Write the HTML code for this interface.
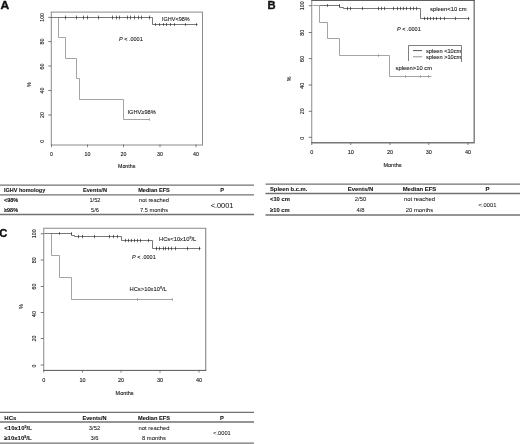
<!DOCTYPE html>
<html><head><meta charset="utf-8"><title>Figure</title>
<style>
html,body{margin:0;padding:0;background:#fff;}
svg{display:block;font-family:"Liberation Sans",sans-serif;}
</style></head><body>
<svg width="520" height="444" viewBox="0 0 520 444">
<rect width="520" height="444" fill="#fff"/>
<text transform="translate(0.6,8.6) scale(1.18,1)" font-size="10.2" font-weight="bold" fill="#111" stroke="#111" stroke-width="0.35">A</text>
<line x1="51.3" y1="12.1" x2="51.3" y2="145.0" stroke="#8a8a8a" stroke-width="1"/><line x1="202.5" y1="12.1" x2="202.5" y2="145.0" stroke="#8a8a8a" stroke-width="1.0"/><line x1="50.8" y1="12.1" x2="203.0" y2="12.1" stroke="#8a8a8a" stroke-width="1.0"/><line x1="50.8" y1="145.0" x2="203.0" y2="145.0" stroke="#8a8a8a" stroke-width="1.0"/><g font-size="5.3" fill="#1a1a1a" stroke="#1a1a1a" stroke-width="0.12" text-anchor="middle"><line x1="51.5" y1="144.5" x2="51.5" y2="147.2" stroke="#666" stroke-width="0.8"/><text x="51.5" y="155.8">0</text><line x1="87.5" y1="144.5" x2="87.5" y2="147.2" stroke="#666" stroke-width="0.8"/><text x="87.5" y="155.8">10</text><line x1="123.5" y1="144.5" x2="123.5" y2="147.2" stroke="#666" stroke-width="0.8"/><text x="123.5" y="155.8">20</text><line x1="160" y1="144.5" x2="160" y2="147.2" stroke="#666" stroke-width="0.8"/><text x="160" y="155.8">30</text><line x1="196" y1="144.5" x2="196" y2="147.2" stroke="#666" stroke-width="0.8"/><text x="196" y="155.8">40</text><line x1="48.3" y1="17.4" x2="51.3" y2="17.4" stroke="#555" stroke-width="0.8"/><text transform="translate(43.5,17.4) rotate(-90)" font-size="5.2">100</text><line x1="48.3" y1="41.6" x2="51.3" y2="41.6" stroke="#555" stroke-width="0.8"/><text transform="translate(43.5,41.6) rotate(-90)" font-size="5.2">80</text><line x1="48.3" y1="66" x2="51.3" y2="66" stroke="#555" stroke-width="0.8"/><text transform="translate(43.5,66.5) rotate(-90)" font-size="5.2">60</text><line x1="48.3" y1="90.5" x2="51.3" y2="90.5" stroke="#555" stroke-width="0.8"/><text transform="translate(43.5,90.5) rotate(-90)" font-size="5.2">40</text><line x1="48.3" y1="115" x2="51.3" y2="115" stroke="#555" stroke-width="0.8"/><text transform="translate(43.5,115) rotate(-90)" font-size="5.2">20</text><text transform="translate(43.5,141.3) rotate(-90)" font-size="5.2">0</text><text x="126.7" y="168.2">Months</text><text transform="translate(31,84.5) rotate(-90)" font-size="5.0">%</text></g>
<path d="M51.5,17.5 L152.5,17.5 L152.5,24.5 L197.5,24.5" fill="none" stroke="#424242" stroke-width="0.72"/>
<line x1="65.5" y1="15.6" x2="65.5" y2="19.4" stroke="#222" stroke-width="0.65"/><line x1="76.5" y1="15.6" x2="76.5" y2="19.4" stroke="#222" stroke-width="0.65"/><line x1="83.5" y1="15.6" x2="83.5" y2="19.4" stroke="#222" stroke-width="0.65"/><line x1="87.5" y1="15.6" x2="87.5" y2="19.4" stroke="#222" stroke-width="0.65"/><line x1="98.5" y1="15.6" x2="98.5" y2="19.4" stroke="#222" stroke-width="0.65"/><line x1="112.5" y1="15.6" x2="112.5" y2="19.4" stroke="#222" stroke-width="0.65"/><line x1="116.5" y1="15.6" x2="116.5" y2="19.4" stroke="#222" stroke-width="0.65"/><line x1="119.5" y1="15.6" x2="119.5" y2="19.4" stroke="#222" stroke-width="0.65"/><line x1="127.5" y1="15.6" x2="127.5" y2="19.4" stroke="#222" stroke-width="0.65"/><line x1="130.5" y1="15.6" x2="130.5" y2="19.4" stroke="#222" stroke-width="0.65"/><line x1="134.5" y1="15.6" x2="134.5" y2="19.4" stroke="#222" stroke-width="0.65"/><line x1="138.5" y1="15.6" x2="138.5" y2="19.4" stroke="#222" stroke-width="0.65"/><line x1="141.5" y1="15.6" x2="141.5" y2="19.4" stroke="#222" stroke-width="0.65"/><line x1="149.5" y1="15.6" x2="149.5" y2="19.4" stroke="#222" stroke-width="0.65"/>
<line x1="155.5" y1="23.1" x2="155.5" y2="25.9" stroke="#222" stroke-width="0.65"/><line x1="159.5" y1="23.1" x2="159.5" y2="25.9" stroke="#222" stroke-width="0.65"/><line x1="163.5" y1="23.1" x2="163.5" y2="25.9" stroke="#222" stroke-width="0.65"/><line x1="166.5" y1="23.1" x2="166.5" y2="25.9" stroke="#222" stroke-width="0.65"/><line x1="170.5" y1="23.1" x2="170.5" y2="25.9" stroke="#222" stroke-width="0.65"/><line x1="174.5" y1="23.1" x2="174.5" y2="25.9" stroke="#222" stroke-width="0.65"/><line x1="185.5" y1="23.1" x2="185.5" y2="25.9" stroke="#222" stroke-width="0.65"/><line x1="196.5" y1="23.1" x2="196.5" y2="25.9" stroke="#222" stroke-width="0.65"/>
<path d="M51.5,17.5 L58.5,17.5 L58.5,37.5 L65.5,37.5 L65.5,58.5 L76.5,58.5 L76.5,78.5 L79.5,78.5 L79.5,99.5 L123.5,99.5 L123.5,119.5 L149.5,119.5" fill="none" stroke="#808080" stroke-width="0.72"/>
<line x1="149.5" y1="118.2" x2="149.5" y2="120.8" stroke="#888" stroke-width="0.65"/>
<text x="119" y="41.1" font-size="5.5" fill="#1a1a1a" stroke="#1a1a1a" stroke-width="0.1"><tspan font-style="italic">P</tspan> &lt; .0001</text>
<text x="162" y="20.6" font-size="5.5" fill="#1a1a1a" stroke="#1a1a1a" stroke-width="0.1">IGHV&lt;98%</text>
<text x="127.5" y="113.7" font-size="5.65" fill="#1a1a1a" stroke="#1a1a1a" stroke-width="0.1">IGHV≥98%</text>
<line x1="0" y1="185.2" x2="254" y2="185.2" stroke="#727272" stroke-width="1.3"/><line x1="0" y1="194.8" x2="254" y2="194.8" stroke="#727272" stroke-width="1.3"/><line x1="0" y1="214.5" x2="254" y2="214.5" stroke="#727272" stroke-width="1.3"/><g font-size="5.6" fill="#161616" stroke="#161616" stroke-width="0.1"><g font-weight="bold"><text x="4" y="192.4" font-size="5.5">IGHV homology</text><text x="95" y="192.4" text-anchor="middle">Events/N</text><text x="154" y="192.4" text-anchor="middle">Median EFS</text><text x="222" y="192.4" text-anchor="middle">P</text><text x="4" y="202" font-size="5.5">&lt;98%</text><text x="4" y="212" font-size="5.5">≥98%</text></g><g text-anchor="middle" font-size="5.7" stroke-width="0.05"><text x="95" y="202">1/52</text><text x="154" y="202">not reached</text><text x="95" y="212">5/6</text><text x="154" y="212">7.5 months</text><text x="222" y="207.5" font-size="7.35">&lt;.0001</text></g></g>
<text transform="translate(267.6,9) scale(1.1,1)" font-size="10.2" font-weight="bold" fill="#111" stroke="#111" stroke-width="0.35">B</text>
<line x1="311.75" y1="0.35" x2="311.75" y2="142.8" stroke="#8a8a8a" stroke-width="1"/><line x1="474.2" y1="0.35" x2="474.2" y2="142.8" stroke="#7a7a7a" stroke-width="1.4"/><line x1="311.25" y1="0.35" x2="474.7" y2="0.35" stroke="#444" stroke-width="1.0"/><line x1="311.25" y1="142.8" x2="474.7" y2="142.8" stroke="#777" stroke-width="1.4"/><g font-size="5.5" fill="#1a1a1a" stroke="#1a1a1a" stroke-width="0.12" text-anchor="middle"><line x1="311.75" y1="142.3" x2="311.75" y2="145.0" stroke="#666" stroke-width="0.8"/><text x="311.75" y="153.8">0</text><line x1="350.75" y1="142.3" x2="350.75" y2="145.0" stroke="#666" stroke-width="0.8"/><text x="350.75" y="153.8">10</text><line x1="390" y1="142.3" x2="390" y2="145.0" stroke="#666" stroke-width="0.8"/><text x="390" y="153.8">20</text><line x1="428.75" y1="142.3" x2="428.75" y2="145.0" stroke="#666" stroke-width="0.8"/><text x="428.75" y="153.8">30</text><line x1="468" y1="142.3" x2="468" y2="145.0" stroke="#666" stroke-width="0.8"/><text x="468" y="153.8">40</text><line x1="308.75" y1="5.7" x2="311.75" y2="5.7" stroke="#555" stroke-width="0.8"/><text transform="translate(303.5,5.7) rotate(-90)" font-size="5.4">100</text><line x1="308.75" y1="32.5" x2="311.75" y2="32.5" stroke="#555" stroke-width="0.8"/><text transform="translate(303.5,32.8) rotate(-90)" font-size="5.4">80</text><line x1="308.75" y1="58.6" x2="311.75" y2="58.6" stroke="#555" stroke-width="0.8"/><text transform="translate(303.5,58.9) rotate(-90)" font-size="5.4">60</text><line x1="308.75" y1="85.0" x2="311.75" y2="85.0" stroke="#555" stroke-width="0.8"/><text transform="translate(303.5,85.8) rotate(-90)" font-size="5.4">40</text><line x1="308.75" y1="111.3" x2="311.75" y2="111.3" stroke="#555" stroke-width="0.8"/><text transform="translate(303.5,111.3) rotate(-90)" font-size="5.4">20</text><line x1="308.75" y1="137.3" x2="311.75" y2="137.3" stroke="#555" stroke-width="0.8"/><text transform="translate(303.5,138.20000000000002) rotate(-90)" font-size="5.4">0</text><text x="392.5" y="166.8">Months</text><text transform="translate(291,79) rotate(-90)" font-size="5.2">%</text></g>
<path d="M319.5,5.5 L339.5,5.5 L339.5,7.5 L343.5,7.5 L343.5,8.5 L420.5,8.5 L420.5,18.5 L469.5,18.5" fill="none" stroke="#424242" stroke-width="0.72"/>
<line x1="327.5" y1="4.1" x2="327.5" y2="6.9" stroke="#222" stroke-width="0.65"/><line x1="339.5" y1="4.1" x2="339.5" y2="6.9" stroke="#222" stroke-width="0.65"/>
<line x1="347.5" y1="6.8" x2="347.5" y2="10.2" stroke="#222" stroke-width="0.65"/><line x1="350.5" y1="6.8" x2="350.5" y2="10.2" stroke="#222" stroke-width="0.65"/><line x1="362.5" y1="6.8" x2="362.5" y2="10.2" stroke="#222" stroke-width="0.65"/><line x1="378.5" y1="6.8" x2="378.5" y2="10.2" stroke="#222" stroke-width="0.65"/><line x1="381.5" y1="6.8" x2="381.5" y2="10.2" stroke="#222" stroke-width="0.65"/><line x1="384.5" y1="6.8" x2="384.5" y2="10.2" stroke="#222" stroke-width="0.65"/><line x1="393.5" y1="6.8" x2="393.5" y2="10.2" stroke="#222" stroke-width="0.65"/><line x1="397.5" y1="6.8" x2="397.5" y2="10.2" stroke="#222" stroke-width="0.65"/><line x1="400.5" y1="6.8" x2="400.5" y2="10.2" stroke="#222" stroke-width="0.65"/><line x1="403.5" y1="6.8" x2="403.5" y2="10.2" stroke="#222" stroke-width="0.65"/><line x1="406.5" y1="6.8" x2="406.5" y2="10.2" stroke="#222" stroke-width="0.65"/><line x1="410.5" y1="6.8" x2="410.5" y2="10.2" stroke="#222" stroke-width="0.65"/><line x1="413.5" y1="6.8" x2="413.5" y2="10.2" stroke="#222" stroke-width="0.65"/><line x1="416.5" y1="6.8" x2="416.5" y2="10.2" stroke="#222" stroke-width="0.65"/>
<line x1="424.5" y1="16.9" x2="424.5" y2="20.1" stroke="#222" stroke-width="0.65"/><line x1="427.5" y1="16.9" x2="427.5" y2="20.1" stroke="#222" stroke-width="0.65"/><line x1="430.5" y1="16.9" x2="430.5" y2="20.1" stroke="#222" stroke-width="0.65"/><line x1="433.5" y1="16.9" x2="433.5" y2="20.1" stroke="#222" stroke-width="0.65"/><line x1="436.5" y1="16.9" x2="436.5" y2="20.1" stroke="#222" stroke-width="0.65"/><line x1="440.5" y1="16.9" x2="440.5" y2="20.1" stroke="#222" stroke-width="0.65"/><line x1="444.5" y1="16.9" x2="444.5" y2="20.1" stroke="#222" stroke-width="0.65"/><line x1="455.5" y1="16.9" x2="455.5" y2="20.1" stroke="#222" stroke-width="0.65"/><line x1="468.5" y1="16.9" x2="468.5" y2="20.1" stroke="#222" stroke-width="0.65"/>
<path d="M312.5,5.5 L319.5,5.5 L319.5,22.5 L327.5,22.5 L327.5,38.5 L339.5,38.5 L339.5,55.5 L389.5,55.5 L389.5,76.5 L431.5,76.5" fill="none" stroke="#808080" stroke-width="0.72"/>
<line x1="378.5" y1="54.1" x2="378.5" y2="56.9" stroke="#888" stroke-width="0.65"/>
<line x1="405.5" y1="75.1" x2="405.5" y2="77.9" stroke="#888" stroke-width="0.65"/><line x1="420.5" y1="75.1" x2="420.5" y2="77.9" stroke="#888" stroke-width="0.65"/><line x1="428.5" y1="75.1" x2="428.5" y2="77.9" stroke="#888" stroke-width="0.65"/>
<text x="430" y="11.2" font-size="5.85" fill="#1a1a1a" stroke="#1a1a1a" stroke-width="0.1">spleen&lt;10 cm</text>
<text x="397" y="31" font-size="5.5" fill="#1a1a1a" stroke="#1a1a1a" stroke-width="0.1"><tspan font-style="italic">P</tspan> &lt; .0001</text>
<path d="M408.5,61 V45.5 H461.5 V62" fill="none" stroke="#484848" stroke-width="0.7"/>
<line x1="413" y1="50.6" x2="422" y2="50.6" stroke="#2a2a2a" stroke-width="0.8"/><line x1="413" y1="56.8" x2="422" y2="56.8" stroke="#777" stroke-width="0.8"/>
<text x="426" y="52.8" font-size="5.65" fill="#1a1a1a" stroke="#1a1a1a" stroke-width="0.1">spleen &lt;10cm</text><text x="426" y="59" font-size="5.65" fill="#1a1a1a" stroke="#1a1a1a" stroke-width="0.1">spleen &gt;10cm</text>
<text x="395.6" y="69.6" font-size="5.85" fill="#1a1a1a" stroke="#1a1a1a" stroke-width="0.1">spleen&gt;10 cm</text>
<line x1="265.5" y1="184.2" x2="520" y2="184.2" stroke="#727272" stroke-width="1.3"/><line x1="265.5" y1="193.5" x2="520" y2="193.5" stroke="#727272" stroke-width="1.3"/><line x1="265.5" y1="215.0" x2="520" y2="215.0" stroke="#727272" stroke-width="1.3"/><g font-size="5.95" fill="#161616" stroke="#161616" stroke-width="0.1"><g font-weight="bold"><text x="270" y="191.2" font-size="5.8">Spleen b.c.m.</text><text x="360.5" y="191.2" text-anchor="middle">Events/N</text><text x="419.5" y="191.2" text-anchor="middle">Median EFS</text><text x="487.5" y="191.2" text-anchor="middle">P</text><text x="270" y="201.4" font-size="5.8">&lt;10 cm</text><text x="270" y="211.9" font-size="5.8">≥10 cm</text></g><g text-anchor="middle" font-size="5.9" stroke-width="0.05"><text x="360.5" y="201.4">2/50</text><text x="419.5" y="201.4">not reached</text><text x="360.5" y="211.9">4/8</text><text x="419.5" y="211.9">20 months</text><text x="487.5" y="207.2" font-size="5.8">&lt;.0001</text></g></g>
<text transform="translate(-0.7,236.5) scale(1.1,1)" font-size="10.2" font-weight="bold" fill="#111" stroke="#111" stroke-width="0.35">C</text>
<line x1="43.75" y1="228.25" x2="43.75" y2="370.4" stroke="#8a8a8a" stroke-width="1"/><line x1="205.75" y1="228.25" x2="205.75" y2="370.4" stroke="#666" stroke-width="0.9"/><line x1="43.25" y1="228.25" x2="206.25" y2="228.25" stroke="#8a8a8a" stroke-width="1.0"/><line x1="43.25" y1="370.4" x2="206.25" y2="370.4" stroke="#555" stroke-width="1.0"/><g font-size="5.5" fill="#1a1a1a" stroke="#1a1a1a" stroke-width="0.12" text-anchor="middle"><line x1="43.75" y1="369.9" x2="43.75" y2="372.59999999999997" stroke="#666" stroke-width="0.8"/><text x="43.75" y="381.6">0</text><line x1="82.5" y1="369.9" x2="82.5" y2="372.59999999999997" stroke="#666" stroke-width="0.8"/><text x="82.5" y="381.6">10</text><line x1="121" y1="369.9" x2="121" y2="372.59999999999997" stroke="#666" stroke-width="0.8"/><text x="121" y="381.6">20</text><line x1="160" y1="369.9" x2="160" y2="372.59999999999997" stroke="#666" stroke-width="0.8"/><text x="160" y="381.6">30</text><line x1="199" y1="369.9" x2="199" y2="372.59999999999997" stroke="#666" stroke-width="0.8"/><text x="199" y="381.6">40</text><line x1="40.75" y1="233.75" x2="43.75" y2="233.75" stroke="#555" stroke-width="0.8"/><text transform="translate(36.3,233.75) rotate(-90)" font-size="5.4">100</text><line x1="40.75" y1="260" x2="43.75" y2="260" stroke="#555" stroke-width="0.8"/><text transform="translate(36.3,260.2) rotate(-90)" font-size="5.4">80</text><line x1="40.75" y1="286.5" x2="43.75" y2="286.5" stroke="#555" stroke-width="0.8"/><text transform="translate(36.3,286.5) rotate(-90)" font-size="5.4">60</text><line x1="40.75" y1="312.5" x2="43.75" y2="312.5" stroke="#555" stroke-width="0.8"/><text transform="translate(36.3,313.9) rotate(-90)" font-size="5.4">40</text><line x1="40.75" y1="338.5" x2="43.75" y2="338.5" stroke="#555" stroke-width="0.8"/><text transform="translate(36.3,338.5) rotate(-90)" font-size="5.4">20</text><line x1="40.75" y1="365" x2="43.75" y2="365" stroke="#555" stroke-width="0.8"/><text transform="translate(36.3,365.9) rotate(-90)" font-size="5.4">0</text><text x="124.6" y="394.7">Months</text><text transform="translate(23,306.5) rotate(-90)" font-size="5.2">%</text></g>
<path d="M44.5,233.5 L71.5,233.5 L71.5,235.5 L74.5,235.5 L74.5,236.5 L121.5,236.5 L121.5,240.5 L152.5,240.5 L152.5,248.5 L200.5,248.5" fill="none" stroke="#424242" stroke-width="0.72"/>
<line x1="59.5" y1="232.2" x2="59.5" y2="234.8" stroke="#222" stroke-width="0.65"/><line x1="71.5" y1="232.2" x2="71.5" y2="234.8" stroke="#222" stroke-width="0.65"/>
<line x1="78.5" y1="234.8" x2="78.5" y2="238.2" stroke="#222" stroke-width="0.65"/><line x1="82.5" y1="234.8" x2="82.5" y2="238.2" stroke="#222" stroke-width="0.65"/><line x1="94.5" y1="234.8" x2="94.5" y2="238.2" stroke="#222" stroke-width="0.65"/><line x1="109.5" y1="234.8" x2="109.5" y2="238.2" stroke="#222" stroke-width="0.65"/><line x1="113.5" y1="234.8" x2="113.5" y2="238.2" stroke="#222" stroke-width="0.65"/><line x1="117.5" y1="234.8" x2="117.5" y2="238.2" stroke="#222" stroke-width="0.65"/>
<line x1="125.5" y1="238.8" x2="125.5" y2="242.2" stroke="#222" stroke-width="0.65"/><line x1="128.5" y1="238.8" x2="128.5" y2="242.2" stroke="#222" stroke-width="0.65"/><line x1="131.5" y1="238.8" x2="131.5" y2="242.2" stroke="#222" stroke-width="0.65"/><line x1="134.5" y1="238.8" x2="134.5" y2="242.2" stroke="#222" stroke-width="0.65"/><line x1="137.5" y1="238.8" x2="137.5" y2="242.2" stroke="#222" stroke-width="0.65"/><line x1="140.5" y1="238.8" x2="140.5" y2="242.2" stroke="#222" stroke-width="0.65"/><line x1="148.5" y1="238.8" x2="148.5" y2="242.2" stroke="#222" stroke-width="0.65"/>
<line x1="156.5" y1="246.7" x2="156.5" y2="250.3" stroke="#222" stroke-width="0.65"/><line x1="159.5" y1="246.7" x2="159.5" y2="250.3" stroke="#222" stroke-width="0.65"/><line x1="163.5" y1="246.7" x2="163.5" y2="250.3" stroke="#222" stroke-width="0.65"/><line x1="165.5" y1="246.7" x2="165.5" y2="250.3" stroke="#222" stroke-width="0.65"/><line x1="168.5" y1="246.7" x2="168.5" y2="250.3" stroke="#222" stroke-width="0.65"/><line x1="171.5" y1="246.7" x2="171.5" y2="250.3" stroke="#222" stroke-width="0.65"/><line x1="175.5" y1="246.7" x2="175.5" y2="250.3" stroke="#222" stroke-width="0.65"/><line x1="187.5" y1="246.7" x2="187.5" y2="250.3" stroke="#222" stroke-width="0.65"/><line x1="199.5" y1="246.7" x2="199.5" y2="250.3" stroke="#222" stroke-width="0.65"/>
<path d="M44.5,233.5 L51.5,233.5 L51.5,255.5 L59.5,255.5 L59.5,277.5 L71.5,277.5 L71.5,299.5 L172.5,299.5" fill="none" stroke="#808080" stroke-width="0.72"/>
<line x1="137.5" y1="298.1" x2="137.5" y2="300.9" stroke="#888" stroke-width="0.65"/><line x1="172.5" y1="298.1" x2="172.5" y2="300.9" stroke="#888" stroke-width="0.65"/>
<text x="159" y="241.2" font-size="5.8" fill="#1a1a1a" stroke="#1a1a1a" stroke-width="0.1">HCs&lt;10x10<tspan font-size="3.5" dy="-2">9</tspan><tspan dy="2">/L</tspan></text>
<text x="132" y="258.8" font-size="5.5" fill="#1a1a1a" stroke="#1a1a1a" stroke-width="0.1"><tspan font-style="italic">P</tspan> &lt; .0001</text>
<text x="129.5" y="291.2" font-size="5.8" fill="#1a1a1a" stroke="#1a1a1a" stroke-width="0.1">HCs&gt;10x10<tspan font-size="3.5" dy="-2">9</tspan><tspan dy="2">/L</tspan></text>
<line x1="0" y1="412.3" x2="254" y2="412.3" stroke="#727272" stroke-width="1.3"/><line x1="0" y1="422" x2="254" y2="422" stroke="#727272" stroke-width="1.3"/><line x1="0" y1="443.2" x2="254" y2="443.2" stroke="#727272" stroke-width="1.3"/><g font-size="5.65" fill="#161616" stroke="#161616" stroke-width="0.1"><g font-weight="bold"><text x="4.3" y="419.5" font-size="6.0">HCs</text><text x="94.5" y="419.5" text-anchor="middle">Events/N</text><text x="154" y="419.5" text-anchor="middle">Median EFS</text><text x="222" y="419.5" text-anchor="middle">P</text><text x="4.3" y="430" font-size="6.0">&lt;10x10<tspan font-size="3.6" dy="-2">9</tspan><tspan dy="2">/L</tspan></text><text x="4.3" y="440" font-size="6.0">≥10x10<tspan font-size="3.6" dy="-2">9</tspan><tspan dy="2">/L</tspan></text></g><g text-anchor="middle" font-size="5.85" stroke-width="0.05"><text x="94.5" y="430">3/52</text><text x="154" y="430">not reached</text><text x="94.5" y="440">3/6</text><text x="154" y="440">8 months</text><text x="222" y="435" font-size="5.7">&lt;.0001</text></g></g>
</svg>
</body></html>
